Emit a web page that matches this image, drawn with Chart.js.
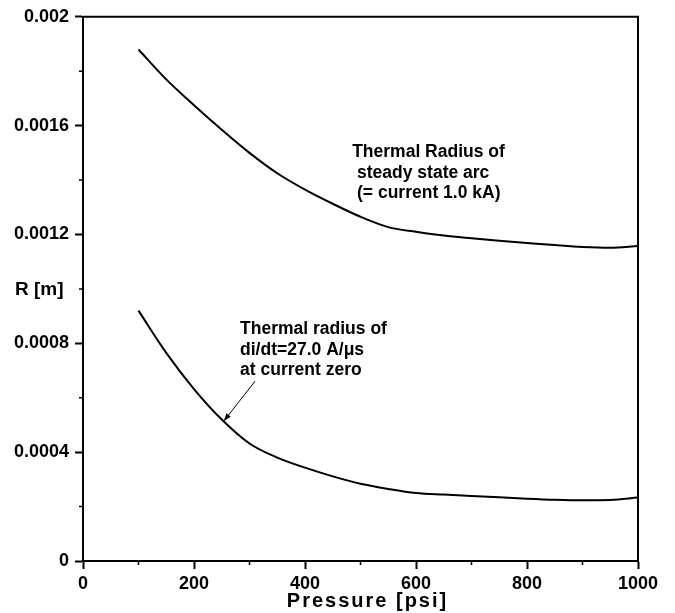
<!DOCTYPE html>
<html>
<head>
<meta charset="utf-8">
<script src="https://cdn.jsdelivr.net/npm/chart.js@4.4.1/dist/chart.umd.min.js"></script>
<style>
  html, body { margin: 0; padding: 0; background: #fff; }
  #wrap { width: 675px; height: 613px; position: relative; }
</style>
</head>
<body>
<div id="wrap"><canvas id="chart"></canvas></div>
<script>
// pressure values (psi)
const pressure = [100, 150, 200, 250, 300, 350, 400, 450, 500, 550, 600, 650, 700, 750, 800, 850, 900, 950, 1000];
// thermal radius of steady state arc (m)
const steadyRadius = [0.00188, 0.00177, 0.001675, 0.001585, 0.0015, 0.001425, 0.001365, 0.001313, 0.001265, 0.001227, 0.00121, 0.001196, 0.001186, 0.001177, 0.001169, 0.001161, 0.001154, 0.001151, 0.001158];
// thermal radius at current zero (m)
const zeroRadius = [0.00092, 0.000765, 0.000632, 0.00052, 0.000432, 0.00038, 0.000343, 0.000311, 0.000284, 0.000265, 0.00025, 0.000244, 0.000239, 0.000234, 0.000229, 0.000225, 0.000223, 0.000224, 0.000233];

const xTicks = [0, 200, 400, 600, 800, 1000];
const yTicks = [0, 0.0004, 0.0008, 0.0012, 0.0016, 0.002];

// notes placed in data units
const notes = [
  { x: 485, y: 0.001483, lines: ["Thermal Radius of", " steady state arc", " (= current 1.0 kA)"] },
  { x: 283, y: 0.000833, lines: ["Thermal radius of", "di/dt=27.0 A/\u03bcs", "at current zero"] }
];
const arrowFrom = { x: 310, y: 0.000661 };
const arrowTo = { x: 254, y: 0.000515 };

const FONT = "'Liberation Sans', Arial, Helvetica, sans-serif";

function toPoints(xs, ys) {
  return xs.map((x, i) => ({ x: x, y: ys[i] }));
}

// frame, minor ticks, axis titles and notes
const extras = {
  id: "extras",
  afterDraw(chart) {
    const ctx = chart.ctx;
    const a = chart.chartArea;
    const xs = chart.scales.x;
    const ys = chart.scales.y;
    ctx.save();
    ctx.strokeStyle = "#000";
    ctx.fillStyle = "#000";

    // top and right frame
    ctx.lineWidth = 2;
    ctx.beginPath();
    ctx.moveTo(a.left, a.top);
    ctx.lineTo(a.right, a.top);
    ctx.lineTo(a.right, a.bottom);
    ctx.stroke();

    // minor ticks
    ctx.lineWidth = 1.5;
    ctx.beginPath();
    for (let i = 0; i < xTicks.length - 1; i++) {
      const px = xs.getPixelForValue((xTicks[i] + xTicks[i + 1]) / 2);
      ctx.moveTo(px, a.bottom);
      ctx.lineTo(px, a.bottom + 4);
    }
    for (let i = 0; i < yTicks.length - 1; i++) {
      const py = ys.getPixelForValue((yTicks[i] + yTicks[i + 1]) / 2);
      ctx.moveTo(a.left, py);
      ctx.lineTo(a.left - 4, py);
    }
    ctx.stroke();

    // axis titles
    ctx.font = "bold 19px " + FONT;
    ctx.textAlign = "left";
    ctx.textBaseline = "alphabetic";
    ctx.fillText("R [m]", a.left - 68, (a.top + a.bottom) / 2 + 6);

    ctx.font = "bold 20px " + FONT;
    ctx.letterSpacing = "2px";
    ctx.textAlign = "center";
    ctx.fillText("Pressure [psi]", (a.left + a.right) / 2 + 7, a.bottom + 46);
    ctx.letterSpacing = "0px";

    // notes
    ctx.font = "bold 17.5px " + FONT;
    ctx.textAlign = "left";
    notes.forEach(n => {
      const px = xs.getPixelForValue(n.x);
      const py = ys.getPixelForValue(n.y);
      n.lines.forEach((t, i) => ctx.fillText(t, px, py + i * 20.5));
    });

    // arrow
    const x1 = xs.getPixelForValue(arrowFrom.x), y1 = ys.getPixelForValue(arrowFrom.y);
    const x2 = xs.getPixelForValue(arrowTo.x), y2 = ys.getPixelForValue(arrowTo.y);
    ctx.lineWidth = 1;
    ctx.beginPath();
    ctx.moveTo(x1, y1);
    ctx.lineTo(x2, y2);
    ctx.stroke();
    const ang = Math.atan2(y2 - y1, x2 - x1);
    ctx.beginPath();
    ctx.moveTo(x2, y2);
    ctx.lineTo(x2 - 8 * Math.cos(ang - 0.35), y2 - 8 * Math.sin(ang - 0.35));
    ctx.lineTo(x2 - 8 * Math.cos(ang + 0.35), y2 - 8 * Math.sin(ang + 0.35));
    ctx.closePath();
    ctx.fill();

    ctx.restore();
  }
};

new Chart(document.getElementById("chart"), {
  type: "line",
  data: {
    datasets: [
      {
        label: "Steady state arc",
        data: toPoints(pressure, steadyRadius),
        borderColor: "#000",
        borderWidth: 2,
        pointRadius: 0,
        cubicInterpolationMode: "monotone",
        fill: false
      },
      {
        label: "Current zero",
        data: toPoints(pressure, zeroRadius),
        borderColor: "#000",
        borderWidth: 2,
        pointRadius: 0,
        cubicInterpolationMode: "monotone",
        fill: false
      }
    ]
  },
  options: {
    responsive: true,
    maintainAspectRatio: false,
    animation: false,
    events: [],
    layout: { padding: { top: 14, right: 37, left: 0, bottom: 0 } },
    plugins: {
      legend: { display: false },
      tooltip: { enabled: false }
    },
    scales: {
      x: {
        type: "linear",
        min: 0,
        max: 1000,
        afterFit: s => { s.height = 52; },
        afterBuildTicks: s => { s.ticks = xTicks.map(v => ({ value: v })); },
        border: { display: true, color: "#000", width: 2 },
        grid: { drawOnChartArea: false, drawTicks: true, tickLength: 8, tickColor: "#000", tickWidth: 2 },
        ticks: {
          color: "#000",
          padding: 4,
          maxRotation: 0,
          font: { family: FONT, size: 18, weight: "bold" },
          callback: v => String(v)
        }
      },
      y: {
        type: "linear",
        min: 0,
        max: 0.002,
        afterFit: s => { s.width = 83; },
        afterBuildTicks: s => { s.ticks = yTicks.map(v => ({ value: v })); },
        border: { display: true, color: "#000", width: 2 },
        grid: { drawOnChartArea: false, drawTicks: true, tickLength: 8, tickColor: "#000", tickWidth: 2 },
        ticks: {
          color: "#000",
          padding: 6,
          font: { family: FONT, size: 18, weight: "bold" },
          callback: v => String(Number(v.toFixed(4)))
        }
      }
    }
  },
  plugins: [extras]
});
</script>
</body>
</html>
